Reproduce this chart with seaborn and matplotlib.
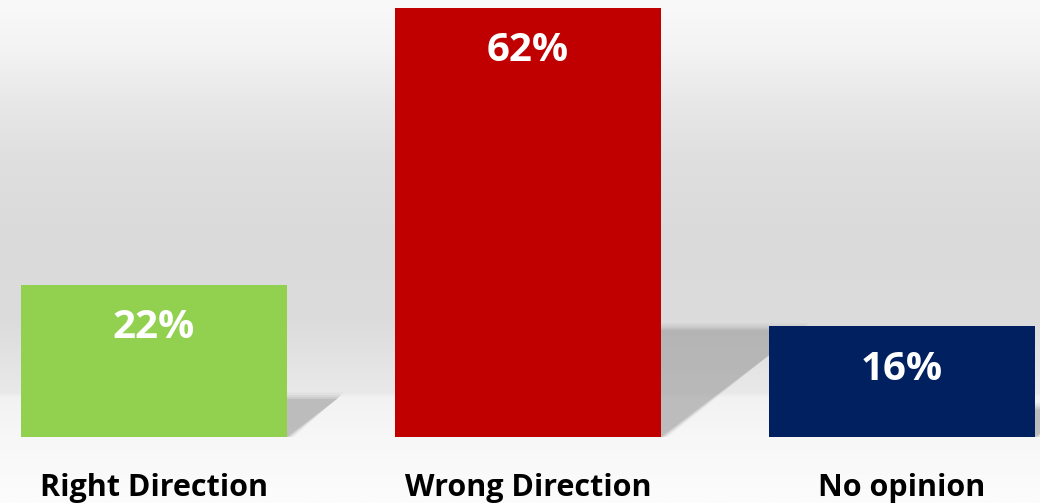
import numpy as np
import seaborn as sns
import matplotlib.pyplot as plt
from matplotlib.colors import LinearSegmentedColormap
from matplotlib.patches import Polygon

categories = ["Right Direction", "Wrong Direction", "No opinion"]
values = [22, 62, 16]
labels = ["22%", "62%", "16%"]
colors = ["#92d050", "#c00000", "#002060"]

sns.set_style("white")
plt.rcParams['font.family'] = ['Open Sans', 'DejaVu Sans']

W, H = 1040, 503
fig = plt.figure(figsize=(W / 100, H / 100), dpi=100)

# background: grey wall gradient + lighter floor
bg = fig.add_axes([0, 0, 1, 1], zorder=0)
stops = [(0, "#f9f9f9"), (50 / H, "#f3f3f3"), (100 / H, "#e8e8e8"), (160 / H, "#dfdfdf"),
         (240 / H, "#dadada"), (320 / H, "#dcdcdc"), (393 / H, "#e9e9e9"), (398 / H, "#f2f2f2"),
         (437 / H, "#f7f7f7"), (1, "#fcfcfc")]
cmap = LinearSegmentedColormap.from_list("bg", stops)
grad = np.linspace(0, 1, H).reshape(-1, 1)
bg.imshow(grad, cmap=cmap, aspect="auto", extent=(0, 1, 0, 1), vmin=0, vmax=1)
bg.set_axis_off()

# plot area: bar base at 437 px from top, 62% top at 8 px
base_px = 66
ax = fig.add_axes([0, base_px / H, 1, (H - base_px) / H], zorder=1)
ax.patch.set_alpha(0)
px_per_unit = (437 - 8) / 62
step = 374
x0 = -154 / step

bw = 266 / step

sns.barplot(x=categories, y=values, hue=categories, palette=colors, legend=False,
            width=bw, saturation=1, linewidth=0, ax=ax, zorder=2)
ax.set_xlim(x0, x0 + W / step)
ax.set_ylim(0, (H - base_px) / px_per_unit)

# shadows falling back-right from each bar (soft edges by layering)
for i, v in enumerate(values):
    xl, xr = i - bw / 2, i + bw / 2
    dy = 0.25 * v
    dx = 0.33 * v * px_per_unit / step
    for k, a in [(1.6, 0.12), (1.0, 0.18), (0.5, 0.25), (0.0, 0.35)]:
        g = k * 4 / step
        gy = k * 4 / px_per_unit
        poly = Polygon([(xl, 0), (xr + g, 0), (xr + dx + g, dy + gy), (xl + dx, dy + gy)],
                       closed=True, facecolor="#a0a0a0", edgecolor="none", alpha=a, zorder=1)
        ax.add_patch(poly)

for i, v in enumerate(values):
    ax.annotate(labels[i], (i, v), xytext=(0, -43), textcoords="offset pixels",
                ha="center", va="center", color="white", fontsize=29, fontweight="bold", zorder=3)

ax.set_yticks([])
ax.tick_params(axis="x", length=0, pad=26, labelsize=22)
for t in ax.get_xticklabels():
    t.set_fontweight("bold")
    t.set_color("black")
ax.set_xlabel("")
ax.set_ylabel("")
sns.despine(ax=ax, left=True, bottom=True)

fig.savefig("out.png", dpi=100)
